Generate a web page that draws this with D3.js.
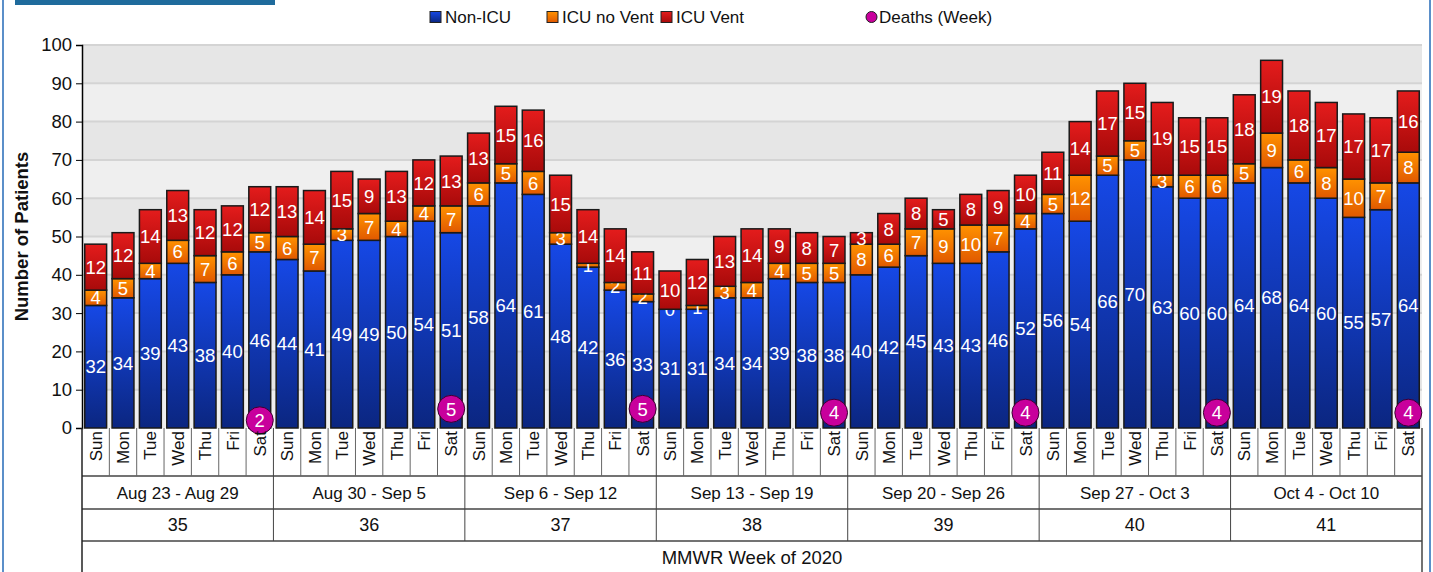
<!doctype html>
<html lang="en">
<head>
<meta charset="utf-8">
<title>Patients by day</title>
<script src="https://cdn.jsdelivr.net/npm/d3@7"></script>
<style>
  body { margin: 0; background: #fff; }
  svg { display: block; font-family: "Liberation Sans", Arial, sans-serif; }
</style>
</head>
<body>
<script>

// Data
var weekRanges = ["Aug 23 - Aug 29", "Aug 30 - Sep 5", "Sep 6 - Sep 12", "Sep 13 - Sep 19",
                  "Sep 20 - Sep 26", "Sep 27 - Oct 3", "Oct 4 - Oct 10"];
var weekNumbers = ["35", "36", "37", "38", "39", "40", "41"];
var dayNames = ["Sun", "Mon", "Tue", "Wed", "Thu", "Fri", "Sat"];

var nonIcu = [32, 34, 39, 43, 38, 40, 46,
              44, 41, 49, 49, 50, 54, 51,
              58, 64, 61, 48, 42, 36, 33,
              31, 31, 34, 34, 39, 38, 38,
              40, 42, 45, 43, 43, 46, 52,
              56, 54, 66, 70, 63, 60, 60,
              64, 68, 64, 60, 55, 57, 64];
var icuNoVent = [4, 5, 4, 6, 7, 6, 5,
                 6, 7, 3, 7, 4, 4, 7,
                 6, 5, 6, 3, 1, 2, 2,
                 0, 1, 3, 4, 4, 5, 5,
                 8, 6, 7, 9, 10, 7, 4,
                 5, 12, 5, 5, 3, 6, 6,
                 5, 9, 6, 8, 10, 7, 8];
var icuVent = [12, 12, 14, 13, 12, 12, 12,
               13, 14, 15, 9, 13, 12, 13,
               13, 15, 16, 15, 14, 14, 11,
               10, 12, 13, 14, 9, 8, 7,
               3, 8, 8, 5, 8, 9, 10,
               11, 14, 17, 15, 19, 15, 15,
               18, 19, 18, 17, 17, 17, 16];
var weeklyDeaths = [2, 5, 5, 4, 4, 4, 4];

var yTicks = [0, 10, 20, 30, 40, 50, 60, 70, 80, 90, 100];

// Build rows
var days = [];
weekNumbers.forEach(function(w, wi) {
  dayNames.forEach(function(dn, di) {
    days.push({ id: w + "-" + dn, week: wi, day: dn, i: wi * 7 + di });
  });
});
var seriesKeys = ["nonIcu", "icuNoVent", "icuVent"];
var table = days.map(function(d) {
  return { id: d.id, nonIcu: nonIcu[d.i], icuNoVent: icuNoVent[d.i], icuVent: icuVent[d.i] };
});

// Graphics
var W = 1433, H = 572;
var plot = { left: 82, right: 1422, top: 45, bottom: 428 };
var rows = [428, 476, 509, 541, 575];

var svg = d3.select("body").append("svg")
  .attr("width", W)
  .attr("height", H);

var defs = svg.append("defs");
function grad(id, c1, c2) {
  var g = defs.append("linearGradient").attr("id", id)
    .attr("x1", 0).attr("y1", 0).attr("x2", 0).attr("y2", 1);
  g.append("stop").attr("offset", "0%").attr("stop-color", c1);
  g.append("stop").attr("offset", "100%").attr("stop-color", c2);
}
grad("g-nonIcu", "#1648e6", "#0b2680");
grad("g-icuNoVent", "#ff9200", "#e05800");
grad("g-icuVent", "#e41c1c", "#a80a0a");
var fills = { nonIcu: "url(#g-nonIcu)", icuNoVent: "url(#g-icuNoVent)", icuVent: "url(#g-icuVent)" };

// page frame
svg.append("rect").attr("x", 15).attr("y", 0).attr("width", 260).attr("height", 5).attr("fill", "#1f6b9c");
svg.append("rect").attr("x", 2).attr("y", 0).attr("width", 2).attr("height", H).attr("fill", "#5b8fc9");
svg.append("rect").attr("x", 1429).attr("y", 0).attr("width", 2).attr("height", H).attr("fill", "#5b8fc9");

// Scales
var x = d3.scaleBand()
  .domain(days.map(function(d) { return d.id; }))
  .range([plot.left, plot.right])
  .paddingInner(0.2)
  .paddingOuter(0.1);

var y = d3.scaleLinear()
  .domain([0, 100])
  .range([plot.bottom, plot.top]);

// Background bands
var bands = d3.range(0, 100, 10);
svg.append("g").selectAll("rect")
  .data(bands)
  .enter().append("rect")
  .attr("x", plot.left)
  .attr("width", plot.right - plot.left)
  .attr("y", function(d) { return y(d + 10); })
  .attr("height", function(d) { return y(d) - y(d + 10); })
  .attr("fill", function(d) { return (d / 10) % 2 === 0 ? "#efefef" : "#e6e6e6"; });

svg.append("g").selectAll("line")
  .data(yTicks.slice(1))
  .enter().append("line")
  .attr("x1", plot.left).attr("x2", plot.right)
  .attr("y1", function(d) { return y(d); })
  .attr("y2", function(d) { return y(d); })
  .attr("stroke", "#d4d4d4")
  .attr("stroke-width", 2);

// Y axis
var yAxis = d3.axisLeft(y).tickValues(yTicks).tickSize(6).tickPadding(4);
var ya = svg.append("g")
  .attr("transform", "translate(" + plot.left + ",0)")
  .call(yAxis);
ya.attr("font-family", null).attr("font-size", null);
ya.select(".domain").attr("stroke", "#000").attr("stroke-width", 1.5);
ya.selectAll(".tick line").attr("stroke", "#000");
ya.selectAll(".tick text").attr("font-size", 18.5).attr("fill", "#111");

svg.append("text")
  .attr("transform", "translate(28," + ((plot.top + plot.bottom) / 2) + ") rotate(-90)")
  .attr("text-anchor", "middle")
  .attr("font-size", 18.5)
  .attr("font-weight", "bold")
  .attr("fill", "#111")
  .text("Number of Patients");

// Stacked bars
var stack = d3.stack().keys(seriesKeys)(table);
var layers = svg.append("g").selectAll("g")
  .data(stack)
  .enter().append("g");

layers.selectAll("rect")
  .data(function(s) { return s.map(function(p) { return { key: s.key, p: p }; }); })
  .enter().append("rect")
  .attr("x", function(d) { return x(d.p.data.id); })
  .attr("width", x.bandwidth())
  .attr("y", function(d) { return y(d.p[1]); })
  .attr("height", function(d) { return y(d.p[0]) - y(d.p[1]); })
  .attr("fill", function(d) { return fills[d.key]; })
  .attr("stroke", "#1a1a1a")
  .attr("stroke-width", 1.5);

layers.selectAll("text")
  .data(function(s) { return s.map(function(p) { return { key: s.key, p: p }; }); })
  .enter().append("text")
  .attr("x", function(d) { return x(d.p.data.id) + x.bandwidth() / 2; })
  .attr("y", function(d) { return (y(d.p[0]) + y(d.p[1])) / 2; })
  .attr("dy", "0.36em")
  .attr("text-anchor", "middle")
  .attr("font-size", 18.5)
  .attr("fill", "#fff")
  .text(function(d) { return d.p.data[d.key]; });

// Deaths
var deaths = weeklyDeaths.map(function(v, i) { return { id: weekNumbers[i] + "-Sat", v: v }; });
var dg = svg.append("g").selectAll("g")
  .data(deaths)
  .enter().append("g")
  .attr("transform", function(d) {
    return "translate(" + (x(d.id) + x.bandwidth() / 2) + "," + y(d.v) + ")";
  });
dg.append("circle").attr("r", 13.5).attr("fill", "#c8009c").attr("stroke", "#3a0030").attr("stroke-width", 1);
dg.append("text").attr("text-anchor", "middle").attr("dy", "0.36em")
  .attr("font-size", 18.5).attr("fill", "#fff")
  .text(function(d) { return d.v; });

// Bottom table
var tb = svg.append("g");
var x0 = plot.left, x1 = plot.right;
function cellX(i) { return x0 + i * (x1 - x0) / 49; }

[rows[1], rows[2], rows[3]].forEach(function(yy) {
  tb.append("line").attr("x1", x0).attr("x2", x1).attr("y1", yy).attr("y2", yy)
    .attr("stroke", "#444").attr("stroke-width", 1.5);
});
tb.append("line").attr("x1", x0).attr("x2", x0).attr("y1", rows[0]).attr("y2", H)
  .attr("stroke", "#222").attr("stroke-width", 1.5);
tb.append("line").attr("x1", x1).attr("x2", x1).attr("y1", rows[0]).attr("y2", H)
  .attr("stroke", "#444").attr("stroke-width", 1.5);

days.forEach(function(d, i) {
  if (i > 0) {
    tb.append("line")
      .attr("x1", cellX(i)).attr("x2", cellX(i))
      .attr("y1", rows[0]).attr("y2", d.day === "Sun" ? rows[3] : rows[1])
      .attr("stroke", d.day === "Sun" ? "#444" : "#666").attr("stroke-width", 1);
  }
  var cx = x(d.id) + x.bandwidth() / 2;
  tb.append("text")
    .attr("transform", "translate(" + cx + "," + (rows[0] + 3) + ") rotate(-90)")
    .attr("text-anchor", "end")
    .attr("dy", "0.36em")
    .attr("font-size", 17)
    .attr("fill", "#111")
    .text(d.day);
});

weekRanges.forEach(function(r, wi) {
  var cx = (cellX(wi * 7) + cellX(wi * 7 + 7)) / 2;
  tb.append("text").attr("x", cx).attr("y", (rows[1] + rows[2]) / 2).attr("dy", "0.36em")
    .attr("text-anchor", "middle").attr("font-size", 17).attr("fill", "#111").text(r);
  tb.append("text").attr("x", cx).attr("y", (rows[2] + rows[3]) / 2).attr("dy", "0.36em")
    .attr("text-anchor", "middle").attr("font-size", 18).attr("fill", "#111").text(weekNumbers[wi]);
});

tb.append("text").attr("x", (x0 + x1) / 2).attr("y", 557).attr("dy", "0.36em")
  .attr("text-anchor", "middle").attr("font-size", 18.5).attr("fill", "#111").text("MMWR Week of 2020");

// Legend
var legendItems = [
  { label: "Non-ICU", x: 430, fill: fills.nonIcu, shape: "rect" },
  { label: "ICU no Vent", x: 547, fill: fills.icuNoVent, shape: "rect" },
  { label: "ICU Vent", x: 661, fill: fills.icuVent, shape: "rect" },
  { label: "Deaths (Week)", x: 866, fill: "#c8009c", shape: "circle" }
];
var lg = svg.append("g").selectAll("g")
  .data(legendItems)
  .enter().append("g")
  .attr("transform", function(d) { return "translate(" + d.x + ",17)"; });
lg.filter(function(d) { return d.shape === "rect"; })
  .append("rect").attr("x", 0).attr("y", -5.5).attr("width", 11).attr("height", 11)
  .attr("fill", function(d) { return d.fill; }).attr("stroke", "#222");
lg.filter(function(d) { return d.shape === "circle"; })
  .append("circle").attr("cx", 5.5).attr("cy", 0).attr("r", 5.5)
  .attr("fill", function(d) { return d.fill; }).attr("stroke", "#222");
lg.append("text").attr("x", function(d) { return d.shape === "circle" ? 13 : 15; })
  .attr("dy", "0.36em").attr("font-size", 17).attr("fill", "#111")
  .text(function(d) { return d.label; });

</script>
</body>
</html>
